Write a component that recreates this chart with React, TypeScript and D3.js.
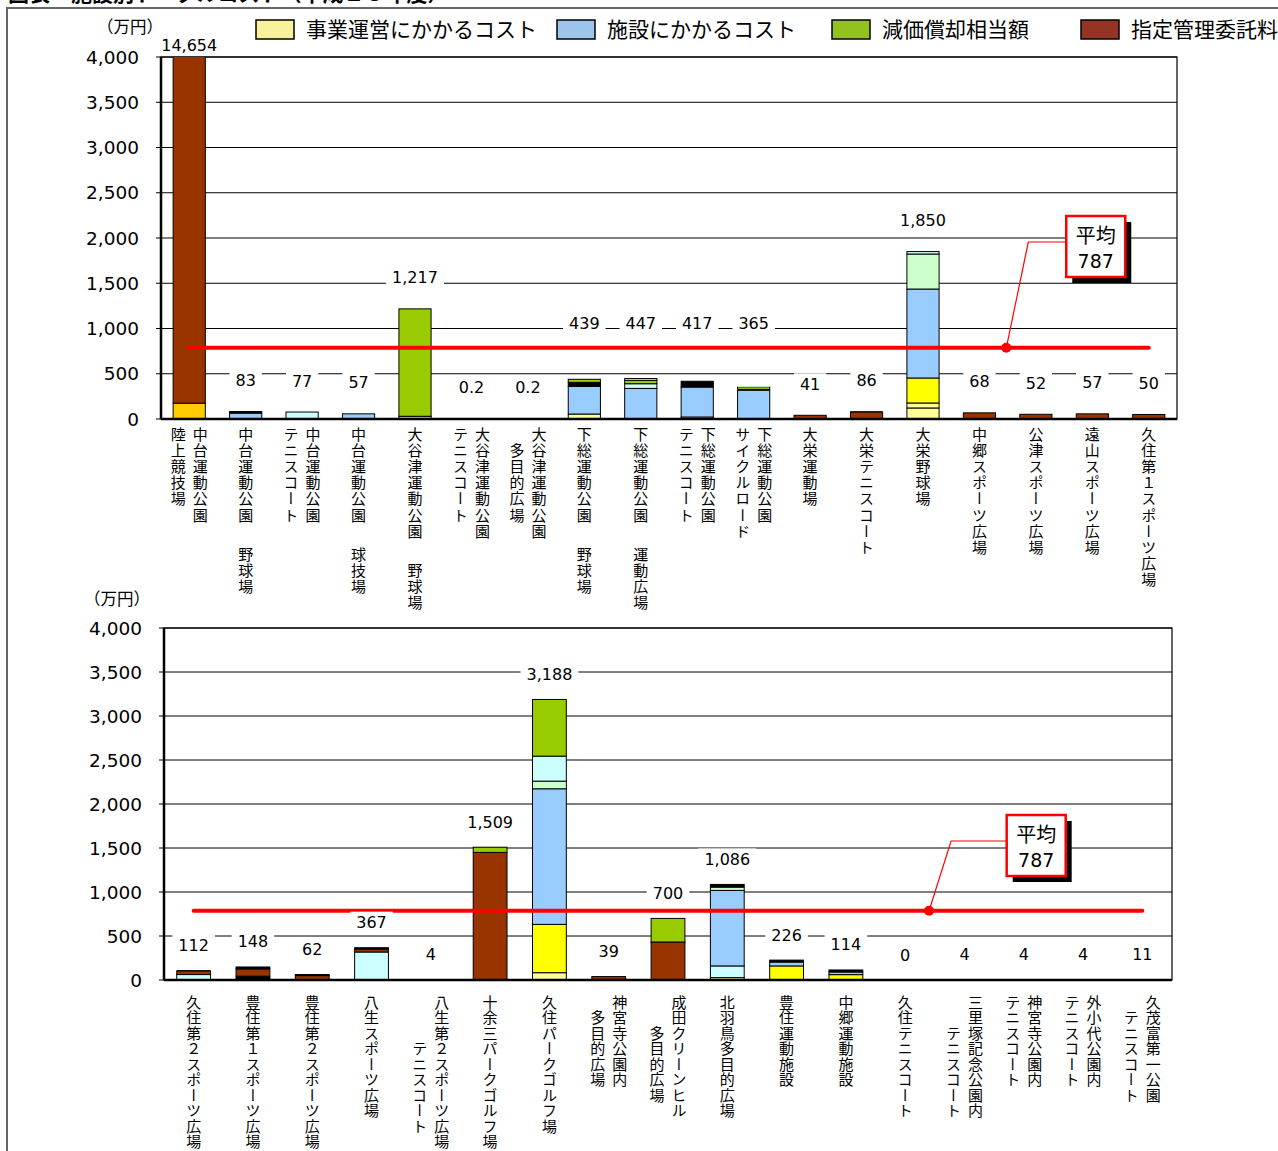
import * as d3 from "d3";

// ---- data ----
const TITLE = "図表　施設別トータルコスト（平成２５年度）";
const UNIT = "（万円）";
const AVERAGE = 787;
const Y_TICKS = [0, 500, 1000, 1500, 2000, 2500, 3000, 3500, 4000];

const LEGEND_NAMES = ["事業運営にかかるコスト", "施設にかかるコスト", "減価償却相当額", "指定管理委託料"];
const LEGEND_COLORS = ["#f8f29c", "#9dc5eb", "#93c11e", "#943424"];

// segment colour keys used inside the stacked bars
const SEGMENT_COLORS: Record<string, string> = {
  ly: "#ffff99",
  yl: "#ffff00",
  gd: "#ffcc00",
  bl: "#99ccff",
  cy: "#ccffff",
  lg: "#ccffcc",
  gr: "#99cc00",
  bk: "#000000",
  br: "#993300",
};

// names: columns of vertical text, first column is the rightmost one, "\n" = gap
const TOP_NAMES = [
  ["中台運動公園", "陸上競技場"],
  ["中台運動公園\n野球場"],
  ["中台運動公園", "テニスコート"],
  ["中台運動公園\n球技場"],
  ["大谷津運動公園\n野球場"],
  ["大谷津運動公園", "テニスコート"],
  ["大谷津運動公園", "　多目的広場"],
  ["下総運動公園\n野球場"],
  ["下総運動公園\n運動広場"],
  ["下総運動公園", "テニスコート"],
  ["下総運動公園", "サイクルロード"],
  ["大栄運動場"],
  ["大栄テニスコート"],
  ["大栄野球場"],
  ["中郷スポーツ広場"],
  ["公津スポーツ広場"],
  ["遠山スポーツ広場"],
  ["久住第１スポーツ広場"],
];
const TOP_TOTALS = [14654, 83, 77, 57, 1217, 0.2, 0.2, 439, 447, 417, 365, 41, 86, 1850, 68, 52, 57, 50];
const TOP_SEGMENTS: [string, number][][] = [
  [["gd", 175], ["br", 14479]],
  [["bl", 65], ["bk", 18]],
  [["cy", 77]],
  [["bl", 57]],
  [["bl", 30], ["gr", 1187]],
  [["bl", 0.2]],
  [["bl", 0.2]],
  [["ly", 55], ["bl", 305], ["bk", 45], ["gr", 34]],
  [["bl", 338], ["cy", 52], ["gr", 37], ["lg", 20]],
  [["ly", 22], ["bl", 331], ["bk", 64]],
  [["bl", 317], ["bk", 10], ["gr", 28], ["lg", 10]],
  [["br", 41]],
  [["br", 76], ["bk", 10]],
  [["ly", 122], ["ly", 55], ["yl", 276], ["bl", 983], ["lg", 387], ["cy", 27]],
  [["br", 68]],
  [["br", 52]],
  [["br", 57]],
  [["br", 50]],
];

const BOTTOM_NAMES = [
  ["久住第２スポーツ広場"],
  ["豊住第１スポーツ広場"],
  ["豊住第２スポーツ広場"],
  ["八生スポーツ広場"],
  ["八生第２スポーツ広場", "　　　テニスコート"],
  ["十余三パークゴルフ場"],
  ["久住パークゴルフ場"],
  ["神宮寺公園内", "　多目的広場"],
  ["成田クリーンヒル", "　　多目的広場"],
  ["北羽鳥多目的広場"],
  ["豊住運動施設"],
  ["中郷運動施設"],
  ["久住テニスコート"],
  ["三里塚記念公園内", "　　テニスコート"],
  ["神宮寺公園内", "テニスコート"],
  ["外小代公園内", "テニスコート"],
  ["久茂富第一公園", "　テニスコート"],
];
const BOTTOM_TOTALS = [112, 148, 62, 367, 4, 1509, 3188, 39, 700, 1086, 226, 114, 0, 4, 4, 4, 11];
const BOTTOM_SEGMENTS: [string, number][][] = [
  [["cy", 62], ["br", 40], ["bk", 10]],
  [["cy", 18], ["bk", 25], ["br", 83], ["bk", 22]],
  [["br", 50], ["bk", 12]],
  [["cy", 318], ["br", 34], ["bk", 15]],
  [["br", 4]],
  [["br", 1450], ["gr", 59]],
  [["ly", 83], ["yl", 549], ["bl", 1541], ["lg", 87], ["cy", 284], ["gr", 644]],
  [["br", 39]],
  [["br", 432], ["gr", 268]],
  [["ly", 27], ["cy", 133], ["bl", 858], ["lg", 38], ["bk", 30]],
  [["yl", 160], ["bl", 44], ["bk", 22]],
  [["yl", 61], ["bl", 30], ["bk", 23]],
  [],
  [["br", 4]],
  [["br", 4]],
  [["br", 4]],
  [["br", 11]],
];

// ---- layout ----
const WIDTH = 1278;
const HEIGHT = 1151;
const JP = "'Noto Sans CJK JP', sans-serif";
const NUM = "'DejaVu Sans', sans-serif";
const LEGEND_X = [256, 557, 832, 1081];
const NAME_SIZE = 15;

const fmt = (v: number) => (Number.isInteger(v) ? d3.format(",")(v) : String(v));
const numWidth = (s: string, size: number) =>
  [...s].reduce((w, c) => w + (/[0-9]/.test(c) ? 0.636 : 0.318) * size, 0);

function Panel({ id, names, totals, segments, frame, unitPos, lift, pitch, nameTop, callout }) {
  const x = d3
    .scaleBand<number>()
    .domain(d3.range(names.length))
    .range([frame.left, frame.right])
    .paddingInner(0.43)
    .paddingOuter(0.215);
  const y = d3.scaleLinear().domain([0, 4000]).range([frame.bottom, frame.top]);
  const avgY = y(AVERAGE);
  const plotW = frame.right - frame.left;
  const center = (i: number) => (x(i) ?? 0) + x.bandwidth() / 2;

  const dotX = frame.left + callout.dot * plotW;
  const boxX = frame.left + callout.box * plotW;
  const boxY = y(callout.boxValue);

  return (
    <g>
      <defs>
        <clipPath id={`clip-${id}`}>
          <rect x={frame.left} y={frame.top} width={plotW} height={frame.bottom - frame.top} />
        </clipPath>
      </defs>

      <text x={unitPos[0]} y={unitPos[1]} fontFamily={JP} fontSize={16.5} textAnchor="middle" dominantBaseline="central">
        {UNIT}
      </text>

      {/* gridlines and y axis */}
      {Y_TICKS.map((t) => (
        <g key={t}>
          {t > 0 && <line x1={frame.left} x2={frame.right} y1={y(t)} y2={y(t)} stroke="#000" strokeWidth={1} />}
          <line x1={frame.left - 5} x2={frame.left} y1={y(t)} y2={y(t)} stroke="#000" strokeWidth={1} />
          <text
            x={frame.left - 22}
            y={y(t)}
            textAnchor="end"
            dominantBaseline="central"
            fontFamily={NUM}
            fontSize={18.5}
          >
            {d3.format(",")(t)}
          </text>
        </g>
      ))}
      <rect x={frame.left} y={frame.top} width={plotW} height={frame.bottom - frame.top} fill="none" stroke="#000" strokeWidth={1.2} />

      {/* stacked bars */}
      <g clipPath={`url(#clip-${id})`}>
        {segments.map((segs, i) => {
          const ends = Array.from(d3.cumsum(segs.map((s) => s[1])));
          return segs.map(([key, v], j) => {
            const y0 = y(ends[j] - v);
            const y1 = y(ends[j]);
            const h = y0 - y1;
            return (
              <rect
                key={`${i}-${j}`}
                x={x(i)}
                y={y1}
                width={x.bandwidth()}
                height={h}
                fill={SEGMENT_COLORS[key]}
                stroke={h > 1 ? "#000" : "none"}
                strokeWidth={1}
              />
            );
          });
        })}
      </g>

      {/* axes */}
      <line x1={frame.left} x2={frame.left} y1={frame.top} y2={frame.bottom} stroke="#000" strokeWidth={2.5} />
      <line x1={frame.left} x2={frame.right} y1={frame.bottom} y2={frame.bottom} stroke="#000" strokeWidth={2.5} />

      {/* average line */}
      <line
        x1={center(0)}
        x2={center(names.length - 1)}
        y1={avgY}
        y2={avgY}
        stroke="#ff0000"
        strokeWidth={4}
        strokeLinecap="round"
      />

      {/* value labels */}
      {totals.map((v, i) => {
        let cy = y(v) - lift;
        if (Math.abs(cy - avgY) < 10) cy = avgY - 24;
        cy = Math.max(cy, frame.top - 12);
        const s = fmt(v);
        const w = numWidth(s, 16);
        return (
          <g key={i}>
            <rect x={center(i) - w / 2 - 6} y={cy - 11} width={w + 12} height={22} fill="#fff" />
            <text x={center(i)} y={cy} textAnchor="middle" dominantBaseline="central" fontFamily={NUM} fontSize={16}>
              {s}
            </text>
          </g>
        );
      })}

      {/* category names, vertical writing, one text per column part */}
      {names.map((cols, i) =>
        cols.map((col, k) => {
          const colX = center(i) + ((cols.length - 1) / 2 - k) * 22;
          const lead = col.length - col.replace(/^　+/, "").length;
          let first = nameTop + lead * pitch;
          return col
            .replace(/^　+/, "")
            .split("\n")
            .map((part, p) => {
              const top = first - NAME_SIZE / 2;
              first += (part.length - 1) * pitch + 2.4 * pitch;
              return (
                <text
                  key={`${i}-${k}-${p}`}
                  x={colX}
                  y={top}
                  fontFamily={JP}
                  fontSize={NAME_SIZE}
                  letterSpacing={pitch - NAME_SIZE}
                  style={{ writingMode: "vertical-rl" }}
                >
                  {part}
                </text>
              );
            });
        })
      )}

      {/* average callout */}
      <polyline
        points={`${dotX},${avgY} ${dotX + 22},${boxY + 26} ${boxX},${boxY + 26}`}
        fill="none"
        stroke="#ff0000"
        strokeWidth={1.2}
      />
      <circle cx={dotX} cy={avgY} r={5} fill="#ff0000" />
      <rect x={boxX + 6} y={boxY + 6} width={59} height={61} fill="#000" />
      <rect x={boxX} y={boxY} width={59} height={61} fill="#fff" stroke="#ff0000" strokeWidth={2.5} />
      <text x={boxX + 29.5} y={boxY + 18} textAnchor="middle" dominantBaseline="central" fontFamily={JP} fontSize={20}>
        平均
      </text>
      <text x={boxX + 29.5} y={boxY + 45} textAnchor="middle" dominantBaseline="central" fontFamily={NUM} fontSize={19}>
        {AVERAGE}
      </text>
    </g>
  );
}

export default function App() {
  return (
    <svg
      width={WIDTH}
      height={HEIGHT}
      viewBox={`0 0 ${WIDTH} ${HEIGHT}`}
      style={{ position: "absolute", left: 0, top: 0, background: "#fff" }}
    >
      <rect width={WIDTH} height={HEIGHT} fill="#fff" />
      <text x={8} y={1} fontFamily={JP} fontSize={21} fontWeight="bold">
        {TITLE}
      </text>
      <path d={`M7,${HEIGHT} V8 H${WIDTH}`} fill="none" stroke="#666" strokeWidth={2} />

      {/* legend */}
      {LEGEND_NAMES.map((name, i) => (
        <g key={name}>
          <rect x={LEGEND_X[i]} y={20} width={38} height={19} fill={LEGEND_COLORS[i]} stroke="#000" strokeWidth={1.5} />
          <text x={LEGEND_X[i] + 50} y={28} dominantBaseline="central" fontFamily={JP} fontSize={21}>
            {name}
          </text>
        </g>
      ))}

      <Panel
        id="top"
        names={TOP_NAMES}
        totals={TOP_TOTALS}
        segments={TOP_SEGMENTS}
        frame={{ left: 161, right: 1177, top: 57, bottom: 419 }}
        unitPos={[130, 26]}
        lift={31}
        pitch={16.2}
        nameTop={434}
        callout={{ dot: 0.832, box: 0.891, boxValue: 2243 }}
      />
      <Panel
        id="bottom"
        names={BOTTOM_NAMES}
        totals={BOTTOM_TOTALS}
        segments={BOTTOM_SEGMENTS}
        frame={{ left: 164, right: 1172, top: 628, bottom: 980 }}
        unitPos={[117, 598]}
        lift={25}
        pitch={15.5}
        nameTop={1002}
        callout={{ dot: 0.759, box: 0.836, boxValue: 1875 }}
      />
    </svg>
  );
}
